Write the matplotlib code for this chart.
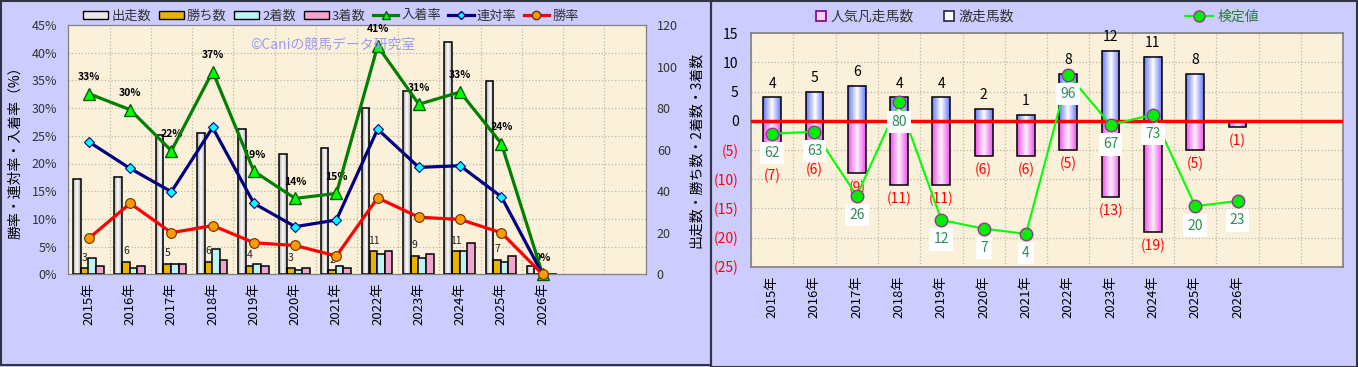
import numpy as np
import matplotlib
matplotlib.use('Agg')
import matplotlib.pyplot as plt
from matplotlib.patches import Rectangle, Patch
from matplotlib.lines import Line2D
from matplotlib.colors import LinearSegmentedColormap

plt.rcParams['font.family'] = ['Noto Sans CJK JP', 'DejaVu Sans']

# --- data ---
years = ['2015年', '2016年', '2017年', '2018年', '2019年', '2020年',
         '2021年', '2022年', '2023年', '2024年', '2025年', '2026年']
starters = [46, 47, 67, 68, 70, 58, 61, 80, 88, 112, 93, 4]
wins = [3, 6, 5, 6, 4, 3, 2, 11, 9, 11, 7, 0]
seconds = [8, 3, 5, 12, 5, 2, 4, 10, 8, 11, 6, 0]
thirds = [4, 4, 5, 7, 4, 3, 3, 11, 10, 15, 9, 0]
place_rate = [32.6, 29.7, 22.3, 36.6, 18.6, 13.7, 14.6, 41.2, 30.7, 32.9, 23.6, 0]
quinella_rate = [23.9, 19.1, 14.9, 26.5, 12.8, 8.6, 9.8, 26.2, 19.3, 19.6, 14.0, 0]
win_rate = [6.5, 12.8, 7.5, 8.8, 5.7, 5.2, 3.3, 13.8, 10.3, 9.9, 7.5, 0]

hot_runs = [4, 5, 6, 4, 4, 2, 1, 8, 12, 11, 8, 0]
flop_runs = [7, 6, 9, 11, 11, 6, 6, 5, 13, 19, 5, 1]
test_value = [62, 63, 26, 80, 12, 7, 4, 96, 67, 73, 20, 23]

BG = '#CCCCFF'
PLOT_BG = '#FBF1DA'
GRID = '#BFB8A8'
W, H = 1358, 367

gray_cm = LinearSegmentedColormap.from_list('g', ['#A8A8A8', '#FFFFFF'])
blue_cm = LinearSegmentedColormap.from_list('b', ['#6677FF', '#FFFFFF'])
pink_cm = LinearSegmentedColormap.from_list('p', ['#F050F0', '#FFF0FF'])


def gradient_bar(ax, x, y0, h, w, cmap, z=2):
    grad = 1 - np.abs(np.linspace(-1, 1, 60))
    ax.imshow(grad[None, :], extent=(x - w / 2, x + w / 2, y0, y0 + h),
              aspect='auto', cmap=cmap, vmin=0, vmax=1, zorder=z,
              interpolation='bilinear')
    ax.add_patch(Rectangle((x - w / 2, y0), w, h, fill=False, ec='black',
                           lw=1.1, zorder=z + 0.1))


fig = plt.figure(figsize=(W / 100, H / 100), dpi=100, facecolor=BG)
xs = np.arange(len(years))

# ================= left chart =================
ax = fig.add_axes([68.3 / W, 1 - 274.3 / H, 577.4 / W, 249.3 / H])
ax.set_facecolor(PLOT_BG)
ax.set_xlim(-0.5, 13.5)
ax.set_ylim(0, 45)
ax.set_yticks(np.arange(0, 46, 5))
ax.set_yticklabels([f'{v}%' for v in range(0, 46, 5)])
ax.set_xticks(xs)
ax.set_xticklabels(years, rotation=90)
ax.set_xticks(np.arange(-0.5, 13.6, 1), minor=True)
ax.grid(axis='y', which='major', ls=':', color=GRID, lw=0.9)
ax.grid(axis='x', which='minor', ls=':', color=GRID, lw=0.9)
ax.tick_params(which='both', length=0)
ax.tick_params(axis='y', pad=8, labelsize=9, labelcolor='#333333')
ax.tick_params(axis='x', pad=6, labelsize=9.5)
ax.set_ylabel('勝率・連対率・入着率（%）', fontsize=10)
ax.yaxis.set_label_coords(-0.08, 0.5)
for s in ax.spines.values():
    s.set_color('#808080')

ax2 = ax.twinx()
ax2.set_ylim(0, 120)
ax2.set_yticks(np.arange(0, 121, 20))
ax2.tick_params(length=0, pad=8, labelsize=9, labelcolor='#333333')
ax2.set_ylabel('出走数・勝ち数・2着数・3着数', fontsize=10)
ax2.yaxis.set_label_coords(1.075, 0.5)
for s in ax2.spines.values():
    s.set_color('#808080')

bw = 0.185
offs = [-0.29, -0.1, 0.08, 0.265]
for i in xs:
    if starters[i] > 0:
        gradient_bar(ax2, i + offs[0], 0, starters[i], bw, gray_cm)
ax2.bar(xs + offs[1], wins, bw, color='#E8B400', ec='black', lw=1.1, zorder=2)
ax2.bar(xs + offs[2], seconds, bw, color='#BFF2F2', ec='black', lw=1.1, zorder=2)
ax2.bar(xs + offs[3], thirds, bw, color='#F2A4CC', ec='black', lw=1.1, zorder=2)
for i, v in enumerate(wins):
    if v > 0:
        ax2.annotate(str(v), (i + offs[1], v), xytext=(0, 4),
                     textcoords='offset points', ha='center', va='bottom',
                     fontsize=7.5, color='#222222')
ax2.set_xlim(-0.5, 13.5)
ax2.set_ylim(0, 120)

ax3 = ax.twinx()
ax3.set_ylim(0, 45)
ax3.set_axis_off()
ax3.plot(xs, place_rate, color='#008000', lw=2.3, marker='^', ms=8,
         mfc='#00FF00', mec='#006000', mew=1, clip_on=False, zorder=5)
ax3.plot(xs, quinella_rate, color='#000080', lw=2.3, marker='D', ms=5.5,
         mfc='#00FFFF', mec='#000080', mew=0.8, clip_on=False, zorder=5)
ax3.plot(xs, win_rate, color='#FF0000', lw=2.3, marker='o', ms=7,
         mfc='#FF9900', mec='#663300', mew=0.8, clip_on=False, zorder=6)
for i, v in enumerate(place_rate):
    ax3.annotate(f'{v:.0f}%', (i, v), xytext=(0, 12), textcoords='offset points',
                 ha='center', va='center', fontsize=7.5, fontweight='bold')
ax3.set_xlim(-0.5, 13.5)

fig.text(333 / W, 1 - 45 / H, '©Caniの競馬データ研究室', color='#9C9CF0',
         fontsize=10, ha='center', va='center')

left_handles = [
    Patch(fc='#E8E8E8', ec='black', lw=1),
    Patch(fc='#E8B400', ec='black', lw=1),
    Patch(fc='#BFF2F2', ec='black', lw=1),
    Patch(fc='#F2A4CC', ec='black', lw=1),
    Line2D([], [], color='#008000', lw=2.3, marker='^', ms=6, mfc='#00FF00', mec='#006000'),
    Line2D([], [], color='#000080', lw=2.3, marker='D', ms=4.5, mfc='#00FFFF', mec='#000080'),
    Line2D([], [], color='#FF0000', lw=2.3, marker='o', ms=6, mfc='#FF9900', mec='#663300'),
]
left_labels = ['出走数', '勝ち数', '2着数', '3着数', '入着率', '連対率', '勝率']
lg = fig.legend(left_handles, left_labels, loc='center',
                bbox_to_anchor=(331 / W, 1 - 16 / H), ncol=7, frameon=False,
                fontsize=9.5, handlelength=1.9, handleheight=0.5,
                columnspacing=0.55, handletextpad=0.25)
for t in lg.get_texts():
    t.set_color('#333333')

# ================= right chart =================
bx = fig.add_axes([751 / W, 1 - 266.7 / H, 592.3 / W, 233.4 / H])
bx.set_facecolor(PLOT_BG)
for i in xs:
    if flop_runs[i] > 0:
        gradient_bar(bx, i, 0, -flop_runs[i], 0.42, pink_cm)
    if hot_runs[i] > 0:
        gradient_bar(bx, i, 0, hot_runs[i], 0.42, blue_cm)
bx.axhline(0, color='#FF0000', lw=2.5, zorder=4)
for i in xs:
    if hot_runs[i] > 0:
        bx.annotate(str(hot_runs[i]), (i, hot_runs[i]), xytext=(0, 5),
                    textcoords='offset points', ha='center', va='bottom',
                    fontsize=10)
    if flop_runs[i] > 0:
        bx.annotate(f'({flop_runs[i]})', (i, -flop_runs[i]), xytext=(0, -5),
                    textcoords='offset points', ha='center', va='top',
                    fontsize=10, color='#FF0000')
bx.set_xlim(-0.5, 13.5)
bx.set_ylim(-25, 15)
yt = np.arange(-25, 16, 5)
bx.set_yticks(yt)
bx.set_yticklabels([str(v) if v >= 0 else f'({-v})' for v in yt])
for lab, v in zip(bx.get_yticklabels(), yt):
    lab.set_color('black' if v >= 0 else '#FF0000')
bx.set_xticks(xs)
bx.set_xticklabels(years, rotation=90)
bx.set_xticks(np.arange(-0.5, 13.6, 1), minor=True)
bx.grid(axis='y', which='major', ls=':', color=GRID, lw=0.9)
bx.grid(axis='x', which='minor', ls=':', color=GRID, lw=0.9)
bx.set_axisbelow(True)
bx.tick_params(which='both', length=0)
bx.tick_params(axis='y', pad=9, labelsize=10)
bx.tick_params(axis='x', pad=6, labelsize=9.5)
for s in bx.spines.values():
    s.set_color('#808080')
    s.set_linewidth(1.2)

bt = bx.twinx()
bt.set_ylim(-15, 120)
bt.set_axis_off()
bt.plot(xs, test_value, color='#00FF00', lw=1.5, marker='o', ms=9,
        mfc='#00EE00', mec='#993399', mew=1, zorder=5, clip_on=False)
for i, v in enumerate(test_value):
    bt.annotate(str(v), (i, v), xytext=(0, -14), textcoords='offset points',
                ha='center', va='center', fontsize=10, color='#2E8B57',
                bbox=dict(boxstyle='square,pad=0.3', fc='white', ec='none'),
                zorder=6)
bt.set_xlim(-0.5, 13.5)

lg2 = fig.legend([Line2D([], [], ls='none', marker='s', ms=7, mfc='#FFCCFF', mec='#800080', mew=1.2),
                  Line2D([], [], ls='none', marker='s', ms=7, mfc='white', mec='#222244', mew=1.2)],
                 ['人気凡走馬数', '激走馬数'], loc='center',
                 bbox_to_anchor=(915 / W, 1 - 17 / H), ncol=2, frameon=False,
                 fontsize=10, handlelength=0.7, columnspacing=2.2, handletextpad=0.3)
for t in lg2.get_texts():
    t.set_color('#333333')
lg3 = fig.legend([Line2D([], [], color='#00FF00', lw=1.5, marker='o', ms=8,
                         mfc='#00EE00', mec='#993399')],
                 ['検定値'], loc='center', bbox_to_anchor=(1222 / W, 1 - 17 / H),
                 frameon=False, fontsize=10, handlelength=2.0, handletextpad=0.3)
for t in lg3.get_texts():
    t.set_color('#2E7D32')

# panel borders
fig.add_artist(Rectangle((0.5 / W, 2 / H), 710 / W, (H - 3) / H, transform=fig.transFigure,
                         fill=False, ec='#333344', lw=1.5))
fig.add_artist(Rectangle((711 / W, 0.5 / H), (W - 712) / W, (H - 1.5) / H,
                         transform=fig.transFigure, fill=False, ec='#333344', lw=1.5))

fig.savefig('out.png', dpi=100, facecolor=BG)
